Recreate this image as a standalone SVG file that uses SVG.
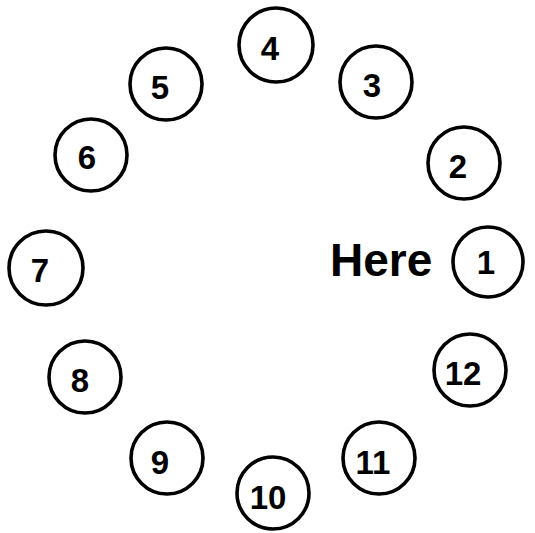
<svg xmlns="http://www.w3.org/2000/svg" width="535" height="533" viewBox="0 0 535 533">
<style>
circle{fill:#fff;stroke:#000;stroke-width:3.6}
text{font-family:"Liberation Sans",Arial,sans-serif;font-weight:bold;fill:#000}
.n{font-size:33px;text-anchor:middle}
.h{font-size:46px}
</style>
<rect width="535" height="533" fill="#fff"/>
<g id="connectors"/>
<g id="n1"><circle cx="488" cy="262" r="35"/><text class="n" x="486" y="274">1</text></g>
<g id="n2"><circle cx="464" cy="163" r="36"/><text class="n" x="458" y="178">2</text></g>
<g id="n3"><circle cx="376" cy="82" r="36"/><text class="n" x="372" y="97">3</text></g>
<g id="n4"><circle cx="276" cy="45" r="37"/><text class="n" x="270" y="60">4</text></g>
<g id="n5"><circle cx="166" cy="84" r="36"/><text class="n" x="160" y="99">5</text></g>
<g id="n6"><circle cx="91" cy="155" r="36"/><text class="n" x="87" y="169">6</text></g>
<g id="n7"><circle cx="46" cy="268" r="37"/><text class="n" x="40" y="282">7</text></g>
<g id="n8"><circle cx="85" cy="377" r="36"/><text class="n" x="80" y="392">8</text></g>
<g id="n9"><circle cx="167" cy="458" r="36"/><text class="n" x="160" y="474">9</text></g>
<g id="n10"><circle cx="273" cy="493" r="36"/><text class="n" x="268" y="509">10</text></g>
<g id="n11"><circle cx="379" cy="458" r="36"/><text class="n" x="373" y="474">11</text></g>
<g id="n12"><circle cx="470" cy="370" r="36"/><text class="n" x="463" y="385">12</text></g>
<g id="here"><text class="h" x="330" y="276">Here</text></g>
</svg>
